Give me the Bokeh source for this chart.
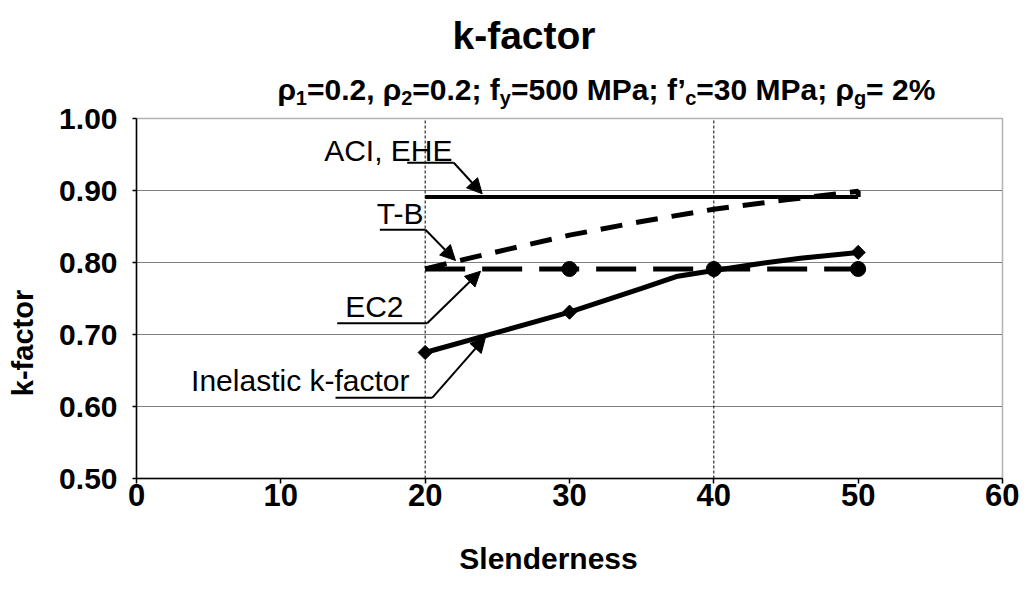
import math
from bokeh.plotting import figure
from bokeh.models import (Range1d, Label, Arrow, NormalHead, FixedTicker, BoxAnnotation,
                          SingleIntervalTicker, PrintfTickFormatter)
from bokeh.embed import file_html
from bokeh.resources import INLINE

# ---------------- data ----------------
slenderness_aci = [20, 50]
k_aci = [0.891, 0.891]

slenderness_tb = [20, 22, 25, 30, 35, 40, 45, 50, 50]
k_tb = [0.791, 0.801, 0.815, 0.838, 0.857, 0.874, 0.887, 0.899, 0.891]

slenderness_ec2 = [20, 30, 40, 50]
k_ec2 = [0.791, 0.791, 0.791, 0.791]

slenderness_inel_curve = [20, 25, 30, 35, 37.5, 40, 43, 46, 50]
k_inel_curve = [0.675, 0.703, 0.731, 0.764, 0.781, 0.789, 0.798, 0.806, 0.814]
slenderness_inel_pts = [20, 30, 40, 50]
k_inel_pts = [0.675, 0.731, 0.789, 0.814]

x_ticks = [0, 10, 20, 30, 40, 50, 60]
x_grid = [20, 40]
y_grid = [0.6, 0.7, 0.8, 0.9]
x_min, x_max = 0, 60
y_min, y_max = 0.5, 1.0
title_text = "k-factor"
x_label = "Slenderness"
y_label = "k-factor"
series_labels = ["ACI, EHE", "T-B", "EC2", "Inelastic k-factor"]

# ---------------- layout in pixels ----------------
W, H = 1019, 574
FRAME_L, FRAME_R, FRAME_T, FRAME_B = 136, 1002, 118, 478
FX = (FRAME_R - FRAME_L) / (x_max - x_min)
FY = (FRAME_B - FRAME_T) / (y_max - y_min)
x_lo = x_min - FRAME_L / FX
x_hi = x_max + (W - FRAME_R) / FX
y_hi = y_max + FRAME_T / FY
y_lo = y_min - (H - FRAME_B) / FY


def dx(px):
    return x_min + (px - FRAME_L) / FX


def dy(py):
    return y_max - (py - FRAME_T) / FY


p = figure(width=W, height=H, output_backend="svg", toolbar_location=None,
           x_range=Range1d(x_lo, x_hi), y_range=Range1d(y_lo, y_hi), min_border=0)
p.background_fill_color = "white"
p.border_fill_color = "white"
p.outline_line_color = None
p.grid.visible = False

# axes drawn at the edges of the plot box
p.xaxis.fixed_location = y_min
p.xaxis.bounds = (x_min, x_max)
p.yaxis.fixed_location = x_min
p.yaxis.bounds = (y_min, y_max)
p.xaxis.ticker = FixedTicker(ticks=x_ticks)
p.yaxis.ticker = SingleIntervalTicker(interval=0.1)
p.yaxis.formatter = PrintfTickFormatter(format="%.2f")
for ax in (p.xaxis[0], p.yaxis[0]):
    ax.axis_line_color = "black"
    ax.axis_line_width = 1.5
    ax.major_tick_line_color = "black"
    ax.major_tick_line_width = 1.5
    ax.major_tick_in = 0
    ax.minor_tick_line_color = None
    ax.major_label_text_color = "black"
    ax.major_label_text_font_style = "bold"
    ax.major_label_text_font = "Liberation Sans"
p.xaxis.major_tick_out = 5
p.xaxis.major_label_standoff = 0
p.xaxis.major_label_text_font_size = "31px"
p.yaxis.major_tick_out = 4
p.yaxis.major_label_standoff = 15
p.yaxis.major_label_text_font_size = "30px"

# gridlines (dotted) inside the plot box
p.segment(x0=x_grid, y0=[y_min] * len(x_grid), x1=x_grid, y1=[y_max] * len(x_grid),
          line_color="black", line_width=1, line_dash="3 2")
p.segment(x0=[x_min] * len(y_grid), y0=y_grid, x1=[x_max] * len(y_grid), y1=y_grid,
          line_color="black", line_width=1, line_dash="1 1")
p.add_layout(BoxAnnotation(left=x_min, right=x_max, bottom=y_min, top=y_max,
                           fill_color=None, line_color="black", line_width=1.5))

# ---------------- series ----------------
p.line(slenderness_aci, k_aci, line_color="black", line_width=4)
p.line(slenderness_tb, k_tb, line_color="black", line_width=5, line_dash="22 14")
p.line(slenderness_inel_curve, k_inel_curve, line_color="black", line_width=5)
p.scatter(slenderness_inel_pts, k_inel_pts, marker="square", angle=0.785398,
          size=10, fill_color="black", line_color="black")
p.line(slenderness_ec2, k_ec2, line_color="black", line_width=5, line_dash="40 17")
p.scatter(slenderness_ec2[1:], k_ec2[1:], marker="circle", size=15,
          fill_color="black", line_color="black")

MID = 0.3465   # (ascent - descent) / 2 for Liberation Sans, in em


def put(px, baseline, text, size, bold=False, align="left", angle=0.0):
    p.add_layout(Label(x=dx(px), y=dy(baseline - MID * size), text=text,
                       text_align=align, text_baseline="middle",
                       text_font="Liberation Sans",
                       text_font_style="bold" if bold else "normal",
                       text_font_size=f"{size}px", text_color="black", angle=angle))


# series annotations: (text right, baseline, underline x0, x1, underline y, tip x, tip y) in px
ann_pos = [
    (452, 160.7, 406.7, 453.3, 162.3, 481.7, 193.3),
    (423, 223.3, 379.3, 425.0, 229.3, 455.0, 260.0),
    (403, 316.7, 336.7, 426.7, 322.7, 480.0, 270.7),
    (409, 390.0, 335.0, 431.7, 397.3, 485.0, 336.7),
]
for txt, (tx, ty, ux0, ux1, uy, ax_, ay_) in zip(series_labels, ann_pos):
    put(tx, ty, txt, 30, align="right")
    p.segment(x0=[dx(ux0)], y0=[dy(uy)], x1=[dx(ux1)], y1=[dy(uy)],
              line_color="black", line_width=2)
    p.add_layout(Arrow(end=NormalHead(size=15, fill_color="black", line_color="black"),
                       x_start=dx(ux1), y_start=dy(uy), x_end=dx(ax_), y_end=dy(ay_),
                       line_color="black", line_width=2))

# axis titles
put(548, 568, x_label, 30, bold=True, align="center")
p.add_layout(Label(x=dx(33 - MID * 29), y=dy(342.5), text=y_label, text_align="center",
                   text_baseline="middle", text_font="Liberation Sans",
                   text_font_style="bold", text_font_size="29px", text_color="black",
                   angle=math.pi / 2))

# ---------------- title & subtitle ----------------
put(523.5, 48.5, title_text, 39, bold=True, align="center")

AB = {'=': 584, '0': 556, '.': 278, '2': 556, ',': 278, ' ': 278, ';': 333, 'f': 333,
      '5': 556, 'M': 833, 'P': 667, 'a': 556, '\u2019': 278, '3': 556, '%': 889,
      '\u03c1': 611, '1': 556, 'y': 556, 'c': 556, 'g': 611}


def tw(s, size):
    return sum(AB.get(c, 556) for c in s) / 1000.0 * size


MAIN_FS, SUB_FS = 30, 20
pieces = [("\u03c1", 0), ("1", 1), ("=0.2, \u03c1", 0), ("2", 1), ("=0.2; f", 0),
          ("y", 1), ("=500 MPa; f\u2019", 0), ("c", 1), ("=30 MPa; \u03c1", 0),
          ("g", 1), ("= 2%", 0)]
cx = 277.0
for s, is_sub in pieces:
    size = SUB_FS if is_sub else MAIN_FS
    base = 104.0 if is_sub else 99.2
    put(cx, base, s, size, bold=True)
    cx += tw(s, size)

open("out.html", "w").write(file_html(p, INLINE))
